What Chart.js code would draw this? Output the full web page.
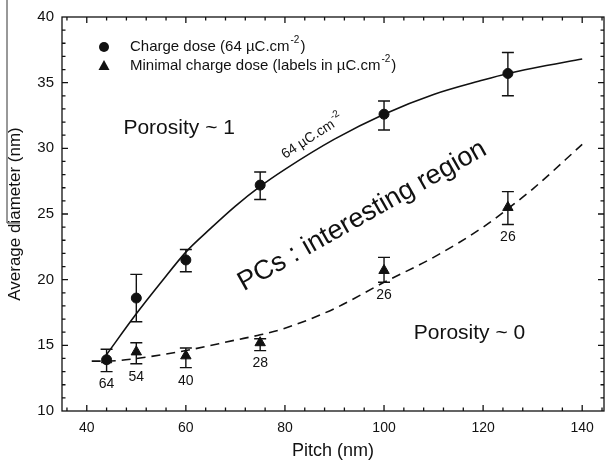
<!DOCTYPE html>
<html>
<head>
<meta charset="utf-8">
<title>Average diameter vs pitch</title>
<script src="https://cdn.jsdelivr.net/npm/chart.js"></script>
<style>
  html, body { margin: 0; padding: 0; background: #fff; }
  #wrap { width: 611px; height: 466px; }
</style>
</head>
<body>
<div id="wrap"><canvas id="myChart" width="611" height="466"></canvas></div>
<script>
// measured points (pitch and diameter in nm)
let pitch = [44, 50, 60, 75, 100, 125];
let chargeDia = [13.9, 18.6, 21.5, 27.2, 32.6, 35.7];
let chargeLow = [13.0, 16.8, 20.6, 26.1, 31.4, 34.0];
let chargeHigh = [14.7, 20.4, 22.3, 28.2, 33.6, 37.3];
let minDia = [13.9, 14.5, 14.2, 15.2, 20.7, 25.5];
let minLow = [13.0, 13.6, 13.3, 14.6, 19.8, 24.2];
let minHigh = [14.7, 15.2, 14.8, 15.5, 21.7, 26.7];
let minDose = ['64', '54', '40', '28', '26', '26'];

// fitted curves
let solidPitch = [44, 50, 55, 60, 65, 70, 75, 80, 90, 100, 110, 120, 125, 130, 140];
let solidDia = [14.3, 17.4, 19.8, 22.1, 23.9, 25.6, 27.1, 28.4, 30.7, 32.6, 34.1, 35.2, 35.7, 36.1, 36.8];
let dashPitch = [41, 44, 50, 60, 70, 75, 80, 90, 100, 110, 120, 125, 130, 140];
let dashDia = [13.8, 13.8, 14.0, 14.6, 15.4, 15.8, 16.3, 17.8, 19.8, 21.7, 24.0, 25.4, 26.9, 30.3];

let xTicks = [40, 60, 80, 100, 120, 140];

const FONT = 'Liberation Sans, Arial, Helvetica, sans-serif';
const INK = '#111';

function pts(xs, ys) {
    return xs.map((v, i) => ({ x: v, y: ys[i] }));
}

// text with a superscript part, left aligned at x
function supText(ctx, x, y, main, sup, tail, size) {
    ctx.font = size + 'px ' + FONT;
    ctx.fillText(main, x, y);
    let w = ctx.measureText(main).width;
    ctx.font = Math.round(size * 0.68) + 'px ' + FONT;
    ctx.fillText(sup, x + w + 1, y - size * 0.42);
    let w2 = ctx.measureText(sup).width;
    ctx.font = size + 'px ' + FONT;
    ctx.fillText(tail, x + w + w2 + 2, y);
}

function supWidth(ctx, main, sup, tail, size) {
    ctx.font = size + 'px ' + FONT;
    let w = ctx.measureText(main).width + ctx.measureText(tail).width;
    ctx.font = Math.round(size * 0.68) + 'px ' + FONT;
    return w + ctx.measureText(sup).width + 2;
}

const errorBars = {
    id: 'errorBars',
    beforeDatasetsDraw(chart) {
        const { ctx, scales: { x, y } } = chart;
        ctx.save();
        ctx.strokeStyle = INK;
        ctx.lineWidth = 1.4;
        ctx.beginPath();
        [[chargeLow, chargeHigh], [minLow, minHigh]].forEach(function (pair) {
            pitch.forEach(function (p, i) {
                const px = x.getPixelForValue(p);
                const lo = y.getPixelForValue(pair[0][i]);
                const hi = y.getPixelForValue(pair[1][i]);
                ctx.moveTo(px, lo); ctx.lineTo(px, hi);
                ctx.moveTo(px - 6, lo); ctx.lineTo(px + 6, lo);
                ctx.moveTo(px - 6, hi); ctx.lineTo(px + 6, hi);
            });
        });
        ctx.stroke();
        ctx.restore();
    }
};

const decorations = {
    id: 'decorations',
    afterDraw(chart) {
        const { ctx, chartArea: a, scales: { x, y } } = chart;
        ctx.save();

        // frame with inward ticks on all four sides
        ctx.strokeStyle = INK;
        ctx.lineWidth = 1.3;
        ctx.strokeRect(a.left, a.top, a.right - a.left, a.bottom - a.top);
        ctx.beginPath();
        for (let v = 36; v <= x.max; v += 4) {
            const px = x.getPixelForValue(v);
            const len = v % 20 === 0 ? 6 : 3.5;
            ctx.moveTo(px, a.bottom); ctx.lineTo(px, a.bottom - len);
            ctx.moveTo(px, a.top); ctx.lineTo(px, a.top + len);
        }
        for (let v = 11; v < 40; v++) {
            const py = y.getPixelForValue(v);
            const len = v % 5 === 0 ? 6 : 3.5;
            ctx.moveTo(a.left, py); ctx.lineTo(a.left + len, py);
            ctx.moveTo(a.right, py); ctx.lineTo(a.right - len, py);
        }
        ctx.stroke();

        // stray line at the left edge of the scan
        ctx.lineWidth = 1;
        ctx.strokeStyle = '#333';
        ctx.beginPath();
        ctx.moveTo(7, 0); ctx.lineTo(7, 223); ctx.lineTo(20, 223);
        ctx.stroke();

        ctx.fillStyle = INK;
        ctx.textBaseline = 'middle';

        // dose labels under the triangles
        ctx.textAlign = 'center';
        ctx.font = '14px ' + FONT;
        pitch.forEach(function (p, i) {
            ctx.fillText(minDose[i], x.getPixelForValue(p), y.getPixelForValue(minLow[i]) + 13);
        });

        // legend
        ctx.textAlign = 'left';
        ctx.beginPath();
        ctx.arc(104, 47, 5, 0, Math.PI * 2);
        ctx.fill();
        ctx.beginPath();
        ctx.moveTo(104, 60); ctx.lineTo(109.5, 70); ctx.lineTo(98.5, 70);
        ctx.closePath();
        ctx.fill();
        supText(ctx, 130, 47, 'Charge dose (64 \u00b5C.cm', '-2', ')', 15);
        supText(ctx, 130, 66, 'Minimal charge dose (labels in \u00b5C.cm', '-2', ')', 15);

        // region labels
        ctx.font = '21px ' + FONT;
        ctx.fillText('Porosity ~ 1', x.getPixelForValue(47.4), y.getPixelForValue(31.5));
        ctx.fillText('Porosity ~ 0', x.getPixelForValue(106), y.getPixelForValue(15.9));

        ctx.save();
        ctx.translate(x.getPixelForValue(95.6), y.getPixelForValue(24.85));
        ctx.rotate(-29.4 * Math.PI / 180);
        ctx.textAlign = 'center';
        ctx.font = '27px ' + FONT;
        ctx.fillText('PCs : interesting region', 0, 0);
        ctx.restore();

        ctx.save();
        ctx.translate(x.getPixelForValue(85.6), y.getPixelForValue(30.9));
        ctx.rotate(-33 * Math.PI / 180);
        ctx.textAlign = 'left';
        const w = supWidth(ctx, '64 \u00b5C.cm', '-2', '', 14);
        supText(ctx, -w / 2, 0, '64 \u00b5C.cm', '-2', '', 14);
        ctx.restore();

        ctx.restore();
    }
};

let myChart = document.getElementById('myChart').getContext('2d');

let chart = new Chart(myChart, {
    type: 'scatter',
    data: {
        datasets: [{
            label: 'Charge dose (64 \u00b5C.cm-2)',
            data: pts(pitch, chargeDia),
            pointStyle: 'circle',
            pointRadius: 5,
            backgroundColor: INK,
            borderColor: INK,
            order: 1
        }, {
            label: 'Minimal charge dose (labels in \u00b5C.cm-2)',
            data: pts(pitch, minDia),
            pointStyle: 'triangle',
            pointRadius: 6,
            backgroundColor: INK,
            borderColor: INK,
            order: 1
        }, {
            label: 'fit 64',
            data: pts(solidPitch, solidDia),
            showLine: true,
            pointRadius: 0,
            borderColor: INK,
            borderWidth: 1.6,
            cubicInterpolationMode: 'monotone',
            order: 2
        }, {
            label: 'fit minimal',
            data: pts(dashPitch, dashDia),
            showLine: true,
            pointRadius: 0,
            borderColor: INK,
            borderWidth: 1.6,
            borderDash: [9, 6],
            cubicInterpolationMode: 'monotone',
            order: 2
        }]
    },
    options: {
        responsive: false,
        animation: false,
        devicePixelRatio: 1,
        layout: { padding: { top: 15, right: 2, left: 0, bottom: 0 } },
        plugins: {
            legend: { display: false },
            tooltip: { enabled: false }
        },
        scales: {
            x: {
                type: 'linear',
                min: 35,
                max: 144.4,
                afterFit: function (scale) { scale.height = 55; },
                afterBuildTicks: function (scale) {
                    scale.ticks = xTicks.map(v => ({ value: v }));
                },
                grid: { display: false, drawTicks: false },
                border: { display: false },
                ticks: {
                    color: INK,
                    padding: 9,
                    maxRotation: 0,
                    font: { family: FONT, size: 14 }
                },
                title: {
                    display: true,
                    text: 'Pitch (nm)',
                    color: INK,
                    padding: { top: 0, bottom: 4 },
                    font: { family: FONT, size: 18 }
                }
            },
            y: {
                min: 10,
                max: 40,
                afterFit: function (scale) { scale.width = 62; },
                grid: { display: false, drawTicks: false },
                border: { display: false },
                ticks: {
                    stepSize: 5,
                    color: INK,
                    padding: 8,
                    font: { family: FONT, size: 15 }
                },
                title: {
                    display: true,
                    text: 'Average diameter (nm)',
                    color: INK,
                    padding: { top: 5, bottom: 0 },
                    font: { family: FONT, size: 17 }
                }
            }
        }
    },
    plugins: [errorBars, decorations]
});
</script>
</body>
</html>
